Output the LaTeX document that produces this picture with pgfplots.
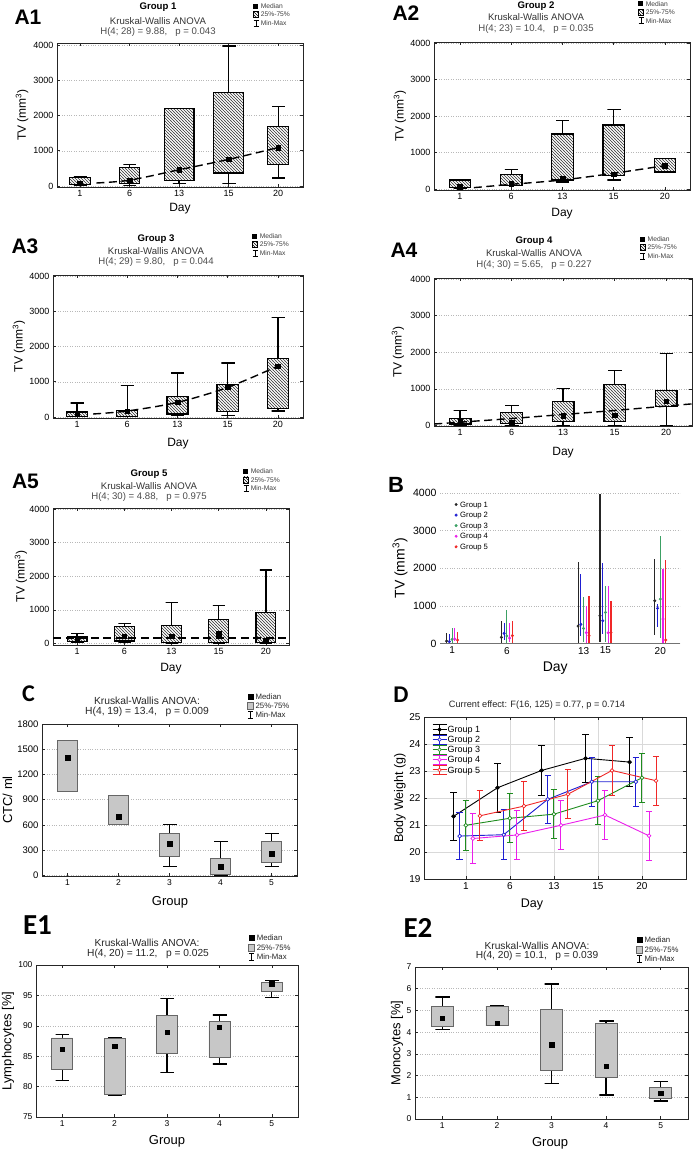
\documentclass[border=0pt]{standalone}
\usepackage{fontspec}
\setmainfont{Liberation Sans}
\newfontfamily\calibri{Carlito}
\usepackage{pgfplots}
\pgfplotsset{compat=1.18}
\usetikzlibrary{patterns}

\newcommand{\fs}[1]{\fontsize{#1}{#1}\selectfont}
% box: #1 pos, #2 min, #3 q1, #4 median, #5 q3, #6 max, #7 box style, #8 half width
\newcommand{\bx}[8]{%
 \pgfmathsetmacro\bxL{#1-#8}\pgfmathsetmacro\bxR{#1+#8}%
 \pgfmathsetmacro\bcL{#1-0.125}\pgfmathsetmacro\bcR{#1+0.125}%
 \addplot[forget plot, whisk] coordinates {(#1,#5) (#1,#6) (\bcL,#6) (\bcR,#6)};
 \addplot[forget plot, whisk] coordinates {(#1,#3) (#1,#2) (\bcL,#2) (\bcR,#2)};
 \addplot[forget plot, #7] coordinates {(\bxL,#3) (\bxR,#3) (\bxR,#5) (\bxL,#5) (\bxL,#3)};
}

\definecolor{bgreen}{RGB}{60,160,100}
\definecolor{dgreen}{RGB}{30,140,30}
\definecolor{bblue}{RGB}{30,30,210}
\definecolor{mag}{RGB}{235,30,235}
\definecolor{bred}{RGB}{240,40,40}

\pgfplotsset{
 base/.style={scale only axis, anchor=south west,
   axis line style={black!85, line width=0.7pt},
   tick style={black!85, line width=0.5pt}, major tick length=3pt,
   /pgf/number format/assume math mode=true, /pgf/number format/1000 sep={},
   scaled ticks=false, ymajorgrids, grid style={dotted, black!28, line width=0.45pt},
   legend cell align=left,
 },
 lpos/.style n args={3}{ylabel style={at={(axis description cs:#1,0.5)}, anchor=center},
   xlabel style={at={(axis description cs:#2,#3)}, anchor=center}},
 apanel/.style={base, xtick={0,1,2,3,4}, xticklabels={1,6,13,15,20},
   ytick={0,1000,2000,3000,4000}, tick label style={font=\fs{9}},
   label style={font=\fs{12}}, ylabel={TV (mm\textsuperscript{3})}, xlabel={Day},
   legend style={draw=none, fill=none, anchor=north west, font=\fs{6.7}, text=black!75,
     inner sep=0pt, nodes={inner sep=1.9pt, text depth=0pt}},
 },
 whisk/.style={black, line width=1.3pt, line cap=rect},
 abox/.style={draw=black, line width=1.3pt, line cap=rect, pattern=north west lines, pattern color=black!80, preaction={fill=white}},
 dashline/.style={black, line width=1.4pt, dash pattern=on 8pt off 4.5pt},
 amed/.style={only marks, mark=square*, mark size=2.3pt, black},
 gpanel/.style={base, xtick={1,2,3,4,5}, xmin=0.5, xmax=5.5, label style={font=\fs{13}},
   xlabel={Group},
   legend style={draw=none, fill=none, anchor=north west, font=\fs{7.8}, text=black!85,
     inner sep=0pt, nodes={inner sep=1.9pt, text depth=0pt}}},
 gbox/.style={draw=black!60, line width=0.6pt, line cap=rect, fill=black!22},
 cmed/.style={only marks, mark=square*, mark size=2.5pt, black},
 bpl/.style={only marks, mark=*, mark size=1.3pt, color=#1,
   legend image code/.code={\fill[#1] (0pt,0pt) circle (1.3pt);},
   error bars/.cd, y dir=both, y explicit, error mark=none, error bar style={line width=1.1pt, #1}},
 dpl/.style 2 args={color=#1, line width=0.9pt, mark=*, mark size=1.9pt, mark options={solid, fill=#2, line width=0.7pt},
   legend image code/.code={\draw[#1, line width=0.9pt] (0pt,0pt)--(14pt,0pt) (0pt,4.6pt)--(14pt,4.6pt) (0pt,-4.6pt)--(14pt,-4.6pt) (7pt,-4.6pt)--(7pt,4.6pt); \filldraw[#1, fill=#2, line width=0.6pt] (7pt,0pt) circle (1.8pt);},
   error bars/.cd, y dir=both, y explicit, error bar style={line width=1pt, #1},
   error mark options={rotate=90, mark size=3.2pt, line width=1pt, #1}},
}

\newcommand{\alegend}{%
\addlegendimage{legend image code/.code={\fill[black] (0pt,-2pt) rectangle (4pt,2pt);}}
\addlegendentry{Median}
\addlegendimage{legend image code/.code={\draw[black, line width=0.6pt, pattern=north west lines] (0pt,-3pt) rectangle (4.5pt,3pt);}}
\addlegendentry{25\%-75\%}
\addlegendimage{legend image code/.code={\draw[black, line width=0.7pt] (0pt,-3pt) -- (5pt,-3pt) (2.5pt,-3pt) -- (2.5pt,3pt) (0pt,3pt) -- (5pt,3pt);}}
\addlegendentry{Min-Max}}

\newcommand{\glegend}{%
\addlegendimage{legend image code/.code={\fill[black] (0.5pt,-2.5pt) rectangle (5.5pt,2.5pt);}}
\addlegendentry{Median}
\addlegendimage{legend image code/.code={\draw[black!60, fill=black!22, line width=0.5pt] (0pt,-3.5pt) rectangle (6pt,3.5pt);}}
\addlegendentry{25\%-75\%}
\addlegendimage{legend image code/.code={\draw[black, line width=0.8pt] (0.5pt,-3.5pt) -- (5.5pt,-3.5pt) (3pt,-3.5pt) -- (3pt,3.5pt) (0.5pt,3.5pt) -- (5.5pt,3.5pt);}}
\addlegendentry{Min-Max}}

\begin{document}
\begin{tikzpicture}
\useasboundingbox (0pt,0pt) rectangle (694pt,1150pt);

% ---------------- A1
\begin{axis}[apanel, at={(57pt,963pt)}, width=246pt, height=144pt,
  xmin=-0.464, xmax=4.5, ymin=-28, ymax=4057, lpos={-0.142}{0.5}{-0.153},
  legend style={at={(0.797,1.29)}}]
\alegend
\bx{0}{20}{40}{85}{240}{260}{abox}{0.21}
\bx{1}{20}{66}{160}{520}{607}{abox}{0.2}
\bx{2}{66}{160}{470}{2190}{2190}{abox}{0.3}
\bx{3}{66}{370}{758}{2645}{3970}{abox}{0.3}
\bx{4}{227}{616}{1090}{1697}{2246}{abox}{0.21}
\addplot[forget plot, dashline, smooth] coordinates {(0.33,85) (1,165) (2,460) (3,755) (4,1090)};
\addplot[forget plot, amed] coordinates {(0,85) (1,160) (2,470) (3,758) (4,1090)};
\end{axis}

% ---------------- A2
\begin{axis}[apanel, at={(434pt,960pt)}, width=256pt, height=148pt,
  xmin=-0.507, xmax=4.49, ymin=-27, ymax=4027, lpos={-0.133}{0.5}{-0.162},
  legend style={at={(0.797,1.29)}}]
\alegend
\bx{0}{10}{46}{60}{247}{247}{abox}{0.21}
\bx{1}{100}{100}{146}{403}{540}{abox}{0.21}
\bx{2}{192}{247}{293}{1510}{1867}{abox}{0.21}
\bx{3}{247}{366}{403}{1757}{2170}{abox}{0.21}
\bx{4}{467}{467}{640}{833}{833}{abox}{0.21}
\addplot[forget plot, dashline, smooth] coordinates {(0.27,37) (1,128) (2,247) (3,430) (4,640)};
\addplot[forget plot, amed] coordinates {(0,60) (1,146) (2,293) (3,403) (4,640)};
\end{axis}

% ---------------- A3
\begin{axis}[apanel, at={(53pt,732pt)}, width=250pt, height=143pt,
  xmin=-0.478, xmax=4.5, ymin=-28, ymax=4028, lpos={-0.136}{0.5}{-0.182},
  legend style={at={(0.796,1.305)}}]
\alegend
\bx{0}{10}{20}{85}{140}{396}{abox}{0.21}
\bx{1}{20}{20}{170}{190}{887}{abox}{0.21}
\bx{2}{47}{85}{415}{585}{1245}{abox}{0.21}
\bx{3}{47}{150}{840}{915}{1528}{abox}{0.21}
\bx{4}{170}{245}{1443}{1660}{2830}{abox}{0.21}
\addplot[forget plot, dashline, smooth] coordinates {(0.32,85) (1,170) (2,415) (3,840) (4,1443)};
\addplot[forget plot, amed] coordinates {(0,85) (1,170) (2,415) (3,840) (4,1443)};
\end{axis}

% ---------------- A4
\begin{axis}[apanel, at={(434pt,724pt)}, width=258pt, height=148pt,
  xmin=-0.505, xmax=4.5, ymin=-14, ymax=4027, lpos={-0.14}{0.5}{-0.182},
  legend style={at={(0.798,1.295)}}]
\alegend
\bx{0}{0}{40}{100}{200}{409}{abox}{0.21}
\bx{1}{0}{50}{90}{362}{553}{abox}{0.21}
\bx{2}{0}{100}{272}{663}{1008}{abox}{0.21}
\bx{3}{0}{100}{281}{1117}{1500}{abox}{0.21}
\bx{4}{0}{527}{663}{954}{1963}{abox}{0.21}
\addplot[forget plot, dashline, smooth] coordinates {(-0.5,40) (0,90) (1,190) (2,300) (3,410) (4,530) (4.5,590)};
\addplot[forget plot, amed] coordinates {(0,100) (1,90) (2,272) (3,281) (4,663)};
\end{axis}

% ---------------- A5
\begin{axis}[apanel, at={(53pt,505pt)}, width=236pt, height=137pt,
  xmin=-0.51, xmax=4.49, ymin=-45, ymax=4030, lpos={-0.136}{0.5}{-0.175},
  legend style={at={(0.805,1.3)}}]
\alegend
\bx{0}{20}{49}{118}{196}{294}{abox}{0.21}
\bx{1}{20}{78}{216}{510}{588}{abox}{0.21}
\bx{2}{0}{20}{216}{539}{1229}{abox}{0.21}
\bx{3}{0}{30}{284}{706}{1132}{abox}{0.21}
\bx{4}{0}{20}{78}{912}{2190}{abox}{0.21}
\addplot[forget plot, dashline] coordinates {(-0.5,167) (4.5,167)};
\addplot[forget plot, amed] coordinates {(0,118) (1,216) (2,216) (3,284) (4,78)};
\end{axis}

% ---------------- B
\begin{axis}[base, at={(440pt,506.5pt)}, width=240pt, height=150.5pt,
  xmin=-0.1, xmax=21.8, ymin=0, ymax=4000,
  axis x line*=bottom, axis y line*=left, y axis line style={draw=none},
  x axis line style={-, black!55, line width=0.6pt}, tick style={draw=none},
  xtick={1,6,13,15,20}, ytick={0,1000,2000,3000,4000},
  yticklabel style={font=\fs{10.5}}, xticklabel style={font=\fs{10}},
  ylabel={TV (mm\textsuperscript{3})}, xlabel={Day}, label style={font=\fs{14}},
  lpos={-0.167}{0.48}{-0.163},
  legend style={at={(0.06,0.96)}, anchor=north west, draw=none, fill=none, font=\fs{7.7},
    inner sep=0pt, nodes={inner sep=2.6pt, text depth=0pt}}]
\addplot[bpl=black!85] coordinates {(0.5,66) += (0,204) -= (0,66) (5.5,164) += (0,433) -= (0,144)
  (12.5,464) += (0,1706) -= (0,464) (14.5,738) += (0,3246) -= (0,688) (19.5,1136) += (0,1105) -= (0,911)};
\addlegendentry{Group 1}
\addplot[bpl=bblue] coordinates {(0.75,50) += (0,200) -= (0,50) (5.75,270) += (0,282) -= (0,177)
  (12.75,509) += (0,1341) -= (0,309) (14.75,606) += (0,1544) -= (0,356) (19.75,934) += (0,116) -= (0,484)};
\addlegendentry{Group 2}
\addplot[bpl=bgreen] coordinates {(1,110) += (0,290) -= (0,110) (6,199) += (0,689) -= (0,199)
  (13,400) += (0,840) -= (0,350) (15,826) += (0,704) -= (0,776) (20,1180) += (0,1670) -= (0,1030)};
\addlegendentry{Group 3}
\addplot[bpl=mag] coordinates {(1.25,120) += (0,280) -= (0,60) (6.25,142) += (0,410) -= (0,112)
  (13.25,287) += (0,713) -= (0,287) (15.25,287) += (0,1233) -= (0,287) (20.25,650) += (0,1340) -= (0,650)};
\addlegendentry{Group 4}
\addplot[bpl=bred] coordinates {(1.5,90) += (0,207) -= (0,90) (6.5,208) += (0,389) -= (0,208)
  (13.5,208) += (0,1042) -= (0,208) (15.5,287) += (0,843) -= (0,287) (20.5,93) += (0,2137) -= (0,93)};
\addlegendentry{Group 5}
\end{axis}

% ---------------- C
\begin{axis}[gpanel, at={(42pt,274pt)}, width=255pt, height=152pt,
  ymin=-10, ymax=1800, ytick={0,300,600,900,1200,1500,1800}, ylabel={CTC/ ml},
  yticklabel style={font=\fs{9.5}}, xticklabel style={font=\fs{8.5}},
  lpos={-0.135}{0.502}{-0.171}, legend style={at={(0.804,1.215)}}]
\glegend
\bx{1}{1000}{1000}{1400}{1600}{1600}{gbox}{0.2}
\bx{2}{600}{600}{700}{950}{950}{gbox}{0.2}
\bx{3}{100}{225}{380}{500}{600}{gbox}{0.2}
\bx{4}{0}{10}{100}{200}{400}{gbox}{0.2}
\bx{5}{100}{150}{250}{400}{500}{gbox}{0.2}
\addplot[forget plot, cmed] coordinates {(1,1400) (2,700) (3,380) (4,100) (5,250)};
\end{axis}

% ---------------- D
\begin{axis}[base, at={(424pt,271pt)}, width=262pt, height=162pt,
  xmin=-0.95, xmax=5, ymin=19, ymax=25, xtick={0,1,2,3,4}, xticklabels={1,6,13,15,20},
  ytick={19,20,21,22,23,24,25}, xmajorgrids, ymajorgrids, grid style={solid, black!15, line width=0.5pt},
  tick label style={font=\fs{10}}, label style={font=\fs{12.5}},
  ylabel={Body Weight (g)}, xlabel={Day}, lpos={-0.092}{0.412}{-0.16},
  legend style={at={(0.03,0.955)}, anchor=north west, draw=none, fill=none, font=\fs{9},
    inner sep=0pt, nodes={inner sep=0.6pt, text depth=0pt}}]
\addplot[dpl={black}{black}] coordinates {(-0.28,21.32) +- (0,0.9) (0.72,22.38) +- (0,0.91) (1.72,23.02) +- (0,0.92) (2.72,23.47) +- (0,0.9) (3.72,23.33) +- (0,0.9)};
\addlegendentry{Group 1}
\addplot[dpl={bblue}{white}] coordinates {(-0.14,20.59) +- (0,0.88) (0.86,20.64) +- (0,0.92) (1.86,21.95) +- (0,0.88) (2.86,22.6) +- (0,0.91) (3.86,22.6) +- (0,0.9)};
\addlegendentry{Group 2}
\addplot[dpl={dgreen}{white}] coordinates {(0,20.99) +- (0,0.92) (1,21.25) +- (0,0.9) (2,21.4) +- (0,0.91) (3,21.9) +- (0,0.9) (4,22.75) +- (0,0.91)};
\addlegendentry{Group 3}
\addplot[dpl={mag}{white}] coordinates {(0.16,20.5) +- (0,0.91) (1.16,20.63) +- (0,0.9) (2.16,20.99) +- (0,0.9) (3.16,21.37) +- (0,0.9) (4.16,20.6) +- (0,0.91)};
\addlegendentry{Group 4}
\addplot[dpl={bred}{white}] coordinates {(0.32,21.34) +- (0,0.92) (1.32,21.7) +- (0,0.92) (2.32,22.14) +- (0,0.9) (3.32,23.02) +- (0,0.91) (4.32,22.64) +- (0,0.9)};
\addlegendentry{Group 5}
\end{axis}

% ---------------- E1
\begin{axis}[gpanel, at={(36pt,33pt)}, width=262pt, height=152pt,
  ymin=75, ymax=100, ytick={75,80,85,90,95,100}, ylabel={Lymphocytes [\%]},
  tick label style={font=\fs{8.5}},
  lpos={-0.107}{0.5}{-0.158}, legend style={at={(0.81,1.21)}}]
\glegend
\bx{1}{81.0}{82.9}{86.2}{88.0}{88.6}{gbox}{0.2}
\bx{2}{78.6}{78.7}{86.6}{87.9}{88.0}{gbox}{0.2}
\bx{3}{82.3}{85.5}{88.9}{91.7}{94.5}{gbox}{0.2}
\bx{4}{83.7}{84.8}{89.8}{90.7}{91.8}{gbox}{0.2}
\bx{5}{94.7}{95.7}{96.9}{97.1}{97.4}{gbox}{0.2}
\addplot[forget plot, cmed, mark size=2.2pt] coordinates {(1,86.2) (2,86.6) (3,88.9) (4,89.8) (5,96.9)};
\end{axis}

% ---------------- E2
\begin{axis}[gpanel, at={(415pt,31pt)}, width=273pt, height=152pt,
  ymin=0, ymax=7, ytick={0,1,2,3,4,5,6,7}, ylabel={Monocytes [\%]},
  tick label style={font=\fs{8.5}},
  lpos={-0.066}{0.495}{-0.158}, legend style={at={(0.81,1.21)}}]
\glegend
\bx{1}{4.11}{4.26}{4.63}{5.2}{5.62}{gbox}{0.2}
\bx{2}{4.31}{4.31}{4.42}{5.2}{5.23}{gbox}{0.2}
\bx{3}{1.62}{2.25}{3.42}{5.05}{6.22}{gbox}{0.2}
\bx{4}{1.11}{1.91}{2.43}{4.42}{4.52}{gbox}{0.2}
\bx{5}{0.83}{0.95}{1.18}{1.46}{1.72}{gbox}{0.2}
\addplot[forget plot, cmed, mark size=2.2pt] coordinates {(1,4.63) (2,4.42) (3,3.42) (4,2.43) (5,1.18)};
\end{axis}

% ---------------- titles and panel labels
\begin{scope}[every node/.style={anchor=center, inner sep=0pt}]
\node[font=\fs{21}\bfseries] at (28pt,1133pt) {A1};
\node[font=\fs{9.6}\bfseries] at (158pt,1142.5pt) {Group 1};
\node[font=\fs{9.6}, text=black!80] at (158pt,1129pt) {Kruskal-Wallis ANOVA};
\node[font=\fs{9.6}, text=black!70] at (158pt,1118pt) {H(4; 28) = 9.88,\ \ \ p = 0.043};

\node[font=\fs{21}\bfseries] at (406pt,1136.5pt) {A2};
\node[font=\fs{9.6}\bfseries] at (536pt,1144pt) {Group 2};
\node[font=\fs{9.6}, text=black!80] at (536pt,1133pt) {Kruskal-Wallis ANOVA};
\node[font=\fs{9.6}, text=black!70] at (536pt,1121pt) {H(4; 23) = 10.4,\ \ \ p = 0.035};

\node[font=\fs{21}\bfseries] at (25pt,904pt) {A3};
\node[font=\fs{9.6}\bfseries] at (156pt,911pt) {Group 3};
\node[font=\fs{9.6}, text=black!80] at (156pt,899pt) {Kruskal-Wallis ANOVA};
\node[font=\fs{9.6}, text=black!70] at (156pt,888pt) {H(4; 29) = 9.80,\ \ \ p = 0.044};

\node[font=\fs{21}\bfseries] at (404pt,900pt) {A4};
\node[font=\fs{9.6}\bfseries] at (534pt,909pt) {Group 4};
\node[font=\fs{9.6}, text=black!80] at (534pt,897pt) {Kruskal-Wallis ANOVA};
\node[font=\fs{9.6}, text=black!70] at (534pt,885pt) {H(4; 30) = 5.65,\ \ \ p = 0.227};

\node[font=\fs{21}\bfseries] at (25.5pt,669pt) {A5};
\node[font=\fs{9.6}\bfseries] at (149pt,676pt) {Group 5};
\node[font=\fs{9.6}, text=black!80] at (149pt,664pt) {Kruskal-Wallis ANOVA};
\node[font=\fs{9.6}, text=black!70] at (149pt,653pt) {H(4; 30) = 4.88,\ \ \ p = 0.975};

\node[font=\fs{22}\bfseries] at (396pt,665pt) {B};

\node[font=\calibri\fs{24}\bfseries] at (28.5pt,456pt) {C};
\node[font=\fs{10.3}, text=black!85] at (147pt,449pt) {Kruskal-Wallis ANOVA:};
\node[font=\fs{10.3}, text=black!85] at (147pt,438pt) {H(4, 19) = 13.4,\ \ \ p = 0.009};

\node[font=\calibri\fs{24}\bfseries] at (401pt,455.5pt) {D};
\node[font=\fs{9.2}, text=black!85] at (537pt,445pt) {Current effect: F(16, 125) = 0.77, p = 0.714};

\node[font=\calibri\fs{29}\bfseries] at (37.5pt,225pt) {E1};
\node[font=\fs{10.2}, text=black!85] at (147pt,207pt) {Kruskal-Wallis ANOVA:};
\node[font=\fs{10.2}, text=black!85] at (148pt,196pt) {H(4, 20) = 11.2,\ \ \ p = 0.025};

\node[font=\calibri\fs{29}\bfseries] at (418pt,222pt) {E2};
\node[font=\fs{10.2}, text=black!85] at (537pt,204pt) {Kruskal-Wallis ANOVA:};
\node[font=\fs{10.2}, text=black!85] at (537pt,194pt) {H(4, 20) = 10.1,\ \ \ p = 0.039};
\end{scope}
\end{tikzpicture}
\end{document}
